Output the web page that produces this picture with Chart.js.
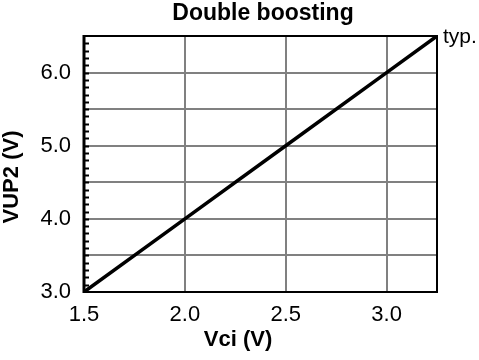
<!DOCTYPE html>
<html>
<head>
<meta charset="utf-8">
<script src="https://cdn.jsdelivr.net/npm/chart.js@4.4.1/dist/chart.umd.min.js"></script>
<style>
  html, body { margin: 0; padding: 0; background: #fff; }
  #wrap { width: 479px; height: 360px; }
</style>
</head>
<body>
<div id="wrap"><canvas id="myChart" width="479" height="360"></canvas></div>
<script>
// data
const vci = [1.5, 2.0, 2.5, 3.0, 3.25];
const vup2 = [3.0, 4.0, 5.0, 6.0, 6.5];
const xTickValues = [1.5, 2.0, 2.5, 3.0];
const yTickValues = [3.0, 3.5, 4.0, 4.5, 5.0, 5.5, 6.0, 6.5];
const yLabelValues = [3.0, 4.0, 5.0, 6.0];

const chartTitle = 'Double boosting';
const xTitle = 'Vci (V)';
const yTitle = 'VUP2 (V)';
const endLabel = 'typ.';

const FONT = '"Liberation Sans", Arial, sans-serif';

// titles, frame, minor ticks and the "typ." label
const decorations = {
  id: 'decorations',
  afterDraw(chart) {
    const { ctx, chartArea: a, scales } = chart;
    ctx.save();

    // frame
    ctx.strokeStyle = '#000';
    ctx.lineWidth = 2;
    ctx.strokeRect(a.left, a.top, a.right - a.left, a.bottom - a.top);
    ctx.lineWidth = 3;
    ctx.beginPath();
    ctx.moveTo(a.left, a.top - 1);
    ctx.lineTo(a.left, a.bottom + 1);
    ctx.stroke();

    // minor ticks every 0.1 on the left axis
    ctx.lineWidth = 2;
    const y = scales.y;
    for (let i = 31; i < 65; i++) {
      const py = Math.round(y.getPixelForValue(i / 10)) + 0.5;
      ctx.beginPath();
      ctx.moveTo(a.left, py);
      ctx.lineTo(a.left + 5, py);
      ctx.stroke();
    }

    ctx.fillStyle = '#000';
    // title
    ctx.font = 'bold 23px ' + FONT;
    ctx.textAlign = 'center';
    ctx.textBaseline = 'middle';
    ctx.fillText(chartTitle, 263, 14);

    // x title
    ctx.font = 'bold 22px ' + FONT;
    ctx.fillText(xTitle, 238, 340);

    // y title
    ctx.save();
    ctx.translate(12, 177);
    ctx.rotate(-Math.PI / 2);
    ctx.fillText(yTitle, 0, 0);
    ctx.restore();

    // typ. label at the end of the line
    const n = vci.length - 1;
    ctx.font = '21px ' + FONT;
    ctx.textAlign = 'left';
    ctx.fillText(endLabel, scales.x.getPixelForValue(vci[n]) + 6, y.getPixelForValue(vup2[n]) + 1);

    ctx.restore();
  }
};

const ctx = document.getElementById('myChart').getContext('2d');
new Chart(ctx, {
  type: 'line',
  data: {
    datasets: [{
      data: vci.map((x, i) => ({ x: x, y: vup2[i] })),
      borderColor: '#000',
      borderWidth: 3.5,
      pointRadius: 0,
      tension: 0,
    }],
  },
  options: {
    responsive: false,
    animation: false,
    layout: { padding: { left: 0, right: 42, top: 36, bottom: 0 } },
    plugins: {
      legend: { display: false },
      title: { display: false },
      tooltip: { enabled: false },
    },
    scales: {
      x: {
        type: 'linear',
        min: 1.5,
        max: 3.25,
        afterBuildTicks: (scale) => { scale.ticks = xTickValues.map((v) => ({ value: v })); },
        afterFit: (scale) => { scale.height = 68; },
        grid: { color: '#808080', lineWidth: 2, drawTicks: false },
        border: { display: false },
        ticks: {
          color: '#000',
          padding: 10,
          font: { family: FONT, size: 22 },
          maxRotation: 0,
          callback: (v) => v.toFixed(1),
        },
      },
      y: {
        type: 'linear',
        min: 3.0,
        max: 6.5,
        afterBuildTicks: (scale) => { scale.ticks = yTickValues.map((v) => ({ value: v })); },
        afterFit: (scale) => { scale.width = 84; },
        grid: { color: '#808080', lineWidth: 2, drawTicks: false },
        border: { display: false },
        ticks: {
          color: '#000',
          padding: 13,
          font: { family: FONT, size: 22 },
          callback: (v) => (yLabelValues.includes(v) ? v.toFixed(1) : ''),
        },
      },
    },
  },
  plugins: [decorations],
});
</script>
</body>
</html>
